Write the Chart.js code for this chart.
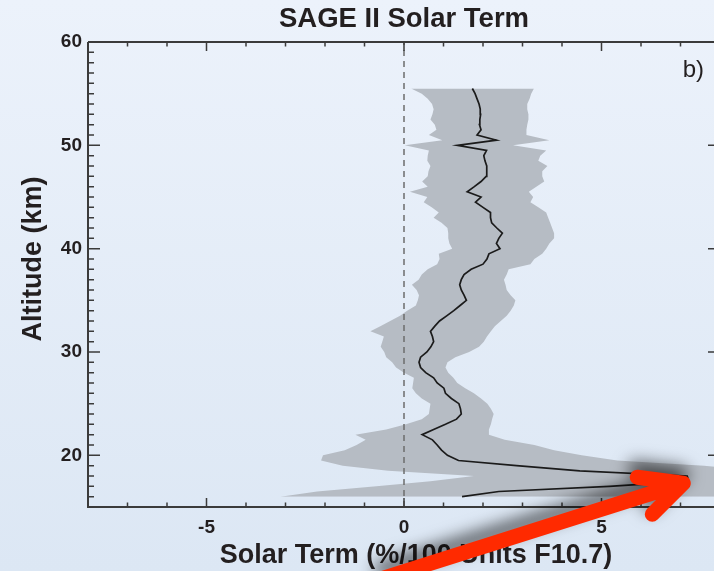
<!DOCTYPE html>
<html>
<head>
<meta charset="utf-8">
<script src="https://cdn.jsdelivr.net/npm/chart.js@4.4.1/dist/chart.umd.min.js"></script>
<style>
  html, body {
    margin: 0;
    padding: 0;
    width: 714px;
    height: 571px;
    overflow: hidden;
    background: linear-gradient(to bottom, #ecf2fb 0%, #dce7f4 100%);
  }
  #wrap { width: 720px; height: 571px; }
</style>
</head>
<body>
<div id="wrap"><canvas id="solar" width="720" height="571"></canvas></div>
<script>
// altitude levels (km), bottom to top
const altitude = [
  16, 16.5, 17, 17.5, 18, 18.5, 19, 19.5, 20, 20.5,
  21, 21.5, 22, 22.5, 23, 23.5, 24, 24.5, 25, 25.5,
  26, 26.5, 27, 27.5, 28, 28.5, 29, 29.5, 30, 30.5,
  31, 31.5, 32, 32.5, 33, 33.5, 34, 34.5, 35, 35.5,
  36, 36.5, 37, 37.5, 38, 38.5, 39, 39.5, 40, 40.5,
  41, 41.5, 42, 42.5, 43, 43.5, 44, 44.5, 45, 45.5,
  46, 46.5, 47, 47.5, 48, 48.5, 49, 49.5, 50, 50.5,
  51, 51.5, 52, 52.5, 53, 53.5, 54, 54.5, 55, 55.5
];

// solar term (%/100 units F10.7)
const solarTerm = [
  1.47, 2.4, 5.2, 7.21, 7.17, 4.45, 2.85, 1.38, 1.10, 0.95,
  0.84, 0.72, 0.46, 0.75, 1.05, 1.33, 1.45, 1.43, 1.39, 1.20,
  1.05, 1.01, 0.84, 0.75, 0.55, 0.42, 0.38, 0.42, 0.58, 0.68,
  0.75, 0.72, 0.67, 0.78, 0.90, 1.08, 1.26, 1.42, 1.58, 1.52,
  1.45, 1.41, 1.45, 1.52, 1.70, 2.00, 2.10, 2.15, 2.43, 2.34,
  2.40, 2.49, 2.35, 2.22, 2.19, 2.19, 2.00, 1.81, 1.95, 1.60,
  1.78, 1.95, 2.08, 2.09, 2.10, 2.05, 2.02, 2.09, 1.35, 2.34,
  1.85, 1.95, 1.91, 1.92, 1.94, 1.93, 1.90, 1.85, 1.80, 1.73
];

const lowerBound = [
  -3.13, -2.2, -0.7, 0.67, 1.77, -0.4, -1.55, -2.1, -2.05, -1.5,
  -1.2, -0.97, -1.23, -0.45, 0.05, 0.45, 0.63, 0.65, 0.67, 0.45,
  0.3, 0.21, 0.23, 0.25, 0.0, -0.2, -0.3, -0.45, -0.5, -0.59,
  -0.55, -0.51, -0.85, -0.6, -0.35, -0.1, 0.08, 0.3, 0.35, 0.38,
  0.32, 0.2, 0.37, 0.45, 0.6, 0.84, 0.9, 0.88, 1.22, 1.15,
  1.12, 1.12, 1.1, 0.95, 0.75, 0.88, 0.7, 0.5, 0.59, 0.15,
  0.6, 0.46, 0.6, 0.62, 0.67, 0.59, 0.6, 0.63, 0.02, 0.97,
  0.63, 0.82, 0.78, 0.67, 0.72, 0.75, 0.71, 0.6, 0.45, 0.18
];

const upperBound = [
  8.8, 9.0, 9.4, 9.6, 9.6, 8.9, 7.6, 5.4, 4.5, 3.8,
  3.3, 2.55, 2.15, 2.15, 2.2, 2.23, 2.27, 2.2, 2.11, 1.95,
  1.77, 1.55, 1.35, 1.25, 1.12, 1.05, 1.1, 1.3, 1.65, 1.9,
  2.02, 2.1, 2.2, 2.3, 2.45, 2.6, 2.7, 2.78, 2.82, 2.7,
  2.6, 2.57, 2.53, 2.6, 2.65, 3.2, 3.3, 3.5, 3.6, 3.68,
  3.8, 3.8, 3.75, 3.7, 3.65, 3.6, 3.4, 3.2, 3.27, 3.16,
  3.35, 3.55, 3.5, 3.5, 3.63, 3.4, 3.45, 3.6, 2.76, 3.68,
  3.1, 3.1, 3.12, 3.15, 3.15, 3.12, 3.12, 3.18, 3.22, 3.29
];

const xTickLabels = [-5, 0, 5];
const yTickLabels = [20, 30, 40, 50, 60];
const zeroLineX = [0, 0];
const zeroLineAlt = [15, 60];

const fam = '"Liberation Sans", Arial, Helvetica, sans-serif';
const ink = '#231f20';

const toPoints = (xs) => xs.map((v, i) => ({ x: v, y: altitude[i] }));

// frame with inward ticks, text labels, and the red arrow
const decor = {
  id: 'decor',
  afterDatasetsDraw(chart) {
    const { ctx, chartArea: a, scales: { x, y } } = chart;
    ctx.save();
    ctx.strokeStyle = '#3b3b3b';
    ctx.lineWidth = 2;
    ctx.beginPath();
    ctx.moveTo(a.left, a.top);
    ctx.lineTo(a.left, a.bottom);
    ctx.lineTo(a.right, a.bottom);
    ctx.lineTo(a.right, a.top);
    ctx.lineTo(a.left, a.top);
    ctx.stroke();

    ctx.lineWidth = 1.5;
    ctx.beginPath();
    for (let v = -8; v <= 8; v++) {
      const px = x.getPixelForValue(v);
      const len = v % 5 === 0 ? 9 : 4.5;
      ctx.moveTo(px, a.bottom);
      ctx.lineTo(px, a.bottom - len);
      ctx.moveTo(px, a.top);
      ctx.lineTo(px, a.top + len);
    }
    for (let v = 15; v <= 60; v++) {
      const py = y.getPixelForValue(v);
      const len = v % 10 === 0 ? 12 : 6;
      ctx.moveTo(a.left, py);
      ctx.lineTo(a.left + len, py);
      ctx.moveTo(a.right, py);
      ctx.lineTo(a.right - len, py);
    }
    ctx.stroke();
    ctx.restore();
  },
  afterDraw(chart) {
    const { ctx, scales: { x, y } } = chart;
    ctx.save();
    ctx.fillStyle = ink;

    // axis titles
    ctx.font = 'bold 27px ' + fam;
    ctx.textAlign = 'center';
    ctx.textBaseline = 'alphabetic';
    ctx.fillText('Solar Term (%/100 Units F10.7)', 416, 563);

    ctx.save();
    ctx.translate(41, 259);
    ctx.rotate(-Math.PI / 2);
    ctx.fillText('Altitude (km)', 0, 0);
    ctx.restore();

    // panel label
    ctx.font = '24px ' + fam;
    ctx.textAlign = 'right';
    ctx.fillText('b)', 704, 77);

    // red arrow pointing at the 18 km peak
    const tipX = x.getPixelForValue(7.07);
    const tipY = y.getPixelForValue(17.3);
    ctx.shadowColor = 'rgba(0,0,0,0.6)';
    ctx.shadowBlur = 16;
    ctx.shadowOffsetX = -2;
    ctx.shadowOffsetY = -9;
    ctx.strokeStyle = '#ff2a00';
    ctx.lineWidth = 15;
    ctx.lineCap = 'round';
    ctx.lineJoin = 'round';
    ctx.beginPath();
    ctx.moveTo(tipX - 300, tipY + 95);
    ctx.lineTo(tipX, tipY);
    ctx.moveTo(tipX - 46, tipY - 6);
    ctx.lineTo(tipX, tipY);
    ctx.lineTo(tipX - 31, tipY + 31);
    ctx.stroke();
    ctx.restore();
  }
};

new Chart(document.getElementById('solar'), {
  type: 'line',
  data: {
    datasets: [
      {
        label: 'Solar term',
        data: toPoints(solarTerm),
        borderColor: '#1b1b1b',
        borderWidth: 1.7,
        pointRadius: 0,
        fill: false,
        order: 0
      },
      {
        label: 'zero',
        data: zeroLineX.map((v, i) => ({ x: v, y: zeroLineAlt[i] })),
        borderColor: '#6c6c6c',
        borderWidth: 1.5,
        borderDash: [6, 5],
        pointRadius: 0,
        fill: false,
        order: 1
      },
      {
        label: 'lower',
        data: toPoints(lowerBound),
        borderColor: 'transparent',
        borderWidth: 0,
        pointRadius: 0,
        fill: false,
        order: 3
      },
      {
        label: 'upper',
        data: toPoints(upperBound),
        borderColor: 'transparent',
        borderWidth: 0,
        pointRadius: 0,
        backgroundColor: '#b6bcc4',
        fill: '-1',
        order: 2
      }
    ]
  },
  options: {
    indexAxis: 'y',
    responsive: false,
    animation: false,
    devicePixelRatio: 1,
    layout: { padding: 0 },
    plugins: {
      legend: { display: false },
      tooltip: { enabled: false },
      title: {
        display: true,
        text: 'SAGE II Solar Term',
        color: ink,
        fullSize: false,
        font: { family: fam, size: 27.5, weight: 'bold' },
        padding: { top: 3, bottom: 6 }
      }
    },
    scales: {
      x: {
        type: 'linear',
        position: 'bottom',
        min: -8,
        max: 8,
        grid: { display: false, drawTicks: false },
        border: { display: false },
        ticks: { color: ink, padding: 9, font: { family: fam, size: 19, weight: 'bold' } },
        afterBuildTicks: (s) => { s.ticks = xTickLabels.map(v => ({ value: v })); },
        afterFit: (s) => { s.height = 64; }
      },
      y: {
        type: 'linear',
        position: 'left',
        min: 15,
        max: 60,
        grid: { display: false, drawTicks: false },
        border: { display: false },
        ticks: { color: ink, padding: 6, font: { family: fam, size: 19, weight: 'bold' } },
        afterBuildTicks: (s) => { s.ticks = yTickLabels.map(v => ({ value: v })); },
        afterFit: (s) => { s.width = 88; }
      }
    }
  },
  plugins: [decor]
});
</script>
</body>
</html>
